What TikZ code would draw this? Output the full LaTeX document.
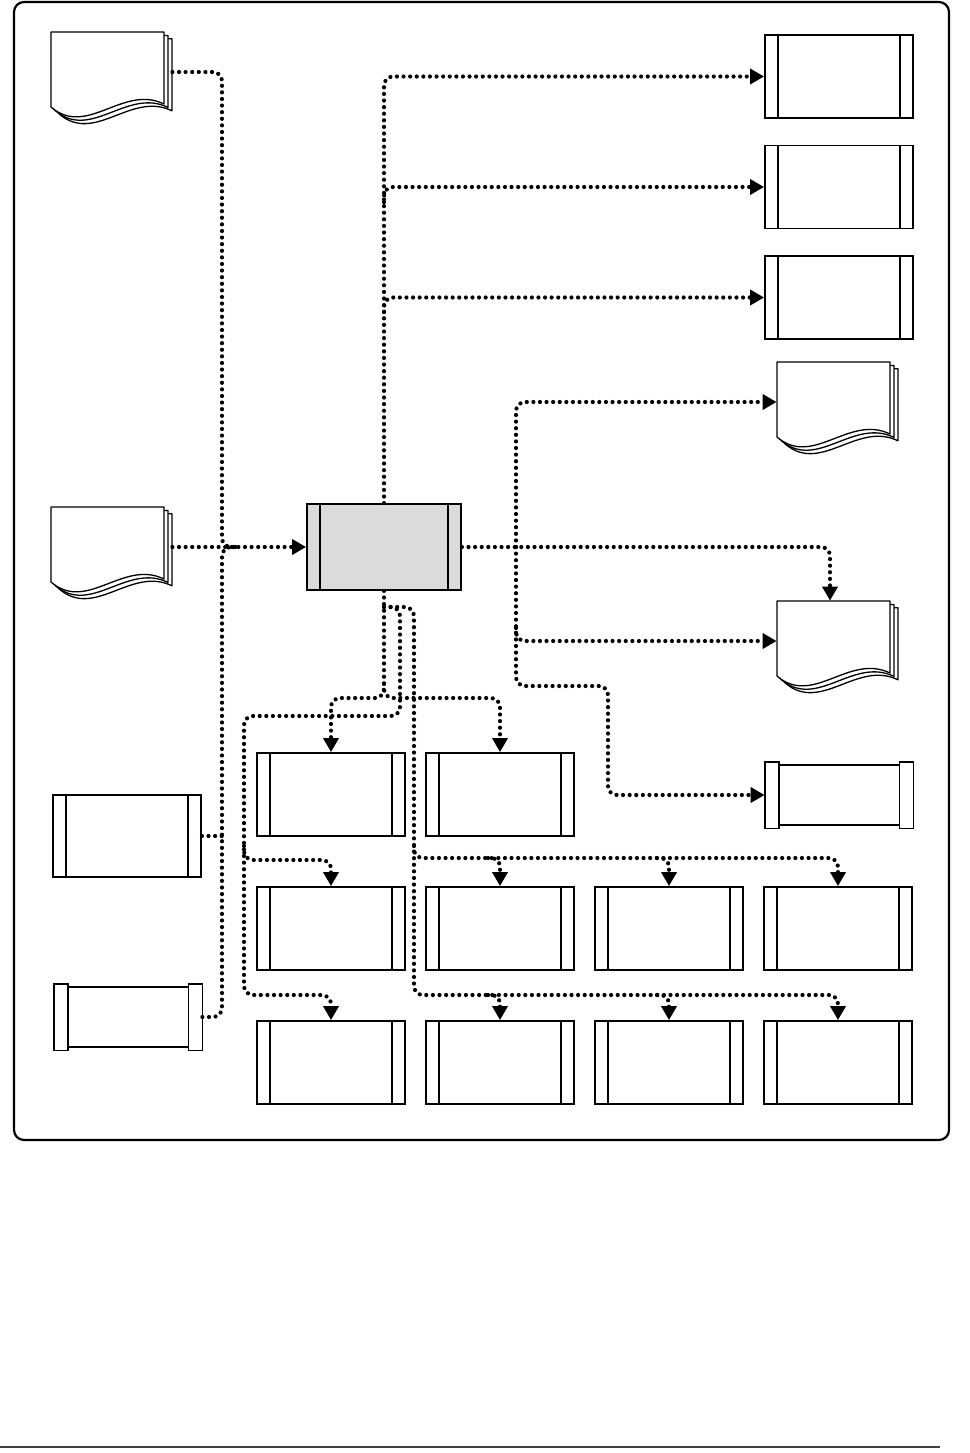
\documentclass[tikz,border=0pt]{standalone}
\usetikzlibrary{arrows.meta,calc}
\tikzset{
 boxline/.style={line width=0.9pt, draw=black},
 procbox/.style={boxline, rectangle, fill=white, inner sep=0pt, minimum width=74pt, minimum height=41.5pt,
   path picture={\draw[line width=0.8pt] ([xshift=6.5pt]path picture bounding box.north west) -- ([xshift=6.5pt]path picture bounding box.south west);
   \draw[line width=0.8pt] ([xshift=-6.5pt]path picture bounding box.north east) -- ([xshift=-6.5pt]path picture bounding box.south east);}},
 centerbox/.style={procbox, fill=black!14, minimum width=77pt, minimum height=43pt},
 anchorbox/.style={rectangle, draw=none, inner sep=0pt},
 conn/.style={line width=2.1pt, line cap=round, dash pattern=on 0pt off 3.3pt, rounded corners=4.5pt},
 arrowto/.style={-{Triangle[length=7pt,width=7.5pt]}},
 docline/.style={line width=0.65pt, draw=black, fill=white, line join=round},
}
\newcommand\docshape[3]{%
  \foreach \o in {8,4,0}{%
    \draw[docline, shift={(#2+\o,#3+0.85*\o)}] (0,0) -- (113,0) -- (113,72) .. controls (72,52) and (36,106) .. (0,75) -- cycle;}%
  \node[anchorbox, minimum width=60.5pt, minimum height=40pt] (#1) at (#2+60.5,#3+40) {};}
\newcommand\tubeshape[1]{%
  \draw[boxline, line width=1.1pt] ([yshift=-1.6pt]#1.north west) -- ([yshift=-1.6pt]#1.north east) ([yshift=1.6pt]#1.south west) -- ([yshift=1.6pt]#1.south east);
  \draw[boxline, fill=white] (#1.north west) rectangle ([xshift=7pt]#1.south west);
  \draw[boxline, fill=white] ([xshift=-7pt]#1.north east) rectangle (#1.south east);}
\begin{document}
\begin{tikzpicture}[x=0.5pt, y=-0.5pt]
\useasboundingbox (0,0) rectangle (970,1453);
\draw[line width=1.1pt, rounded corners=5pt] (14,2) rectangle (949,1140);
\draw[black!75, line width=0.6pt] (0,1447) -- (940,1447);

% documents
\docshape{d1}{51}{32}
\docshape{d2}{51}{507}
\docshape{d3}{777}{362}
\docshape{d4}{777}{601}

% boxes
\node[centerbox] (c) at (384,547) {};
\node[procbox] (r1) at (839,76.5) {};
\node[procbox] (r2) at (839,187) {};
\node[procbox] (r3) at (839,297.5) {};
\node[procbox, minimum height=41pt] (l1) at (127,836) {};
\node[procbox] (g11) at (331,794.5) {};
\node[procbox] (g12) at (500,794.5) {};
\node[procbox] (g21) at (331,928.5) {};
\node[procbox] (g22) at (500,928.5) {};
\node[procbox] (g23) at (669,928.5) {};
\node[procbox] (g24) at (838,928.5) {};
\node[procbox] (g31) at (331,1062.5) {};
\node[procbox] (g32) at (500,1062.5) {};
\node[procbox] (g33) at (669,1062.5) {};
\node[procbox] (g34) at (838,1062.5) {};

% tubes
\node[anchorbox, minimum width=74pt, minimum height=33pt] (l2) at (128,1017) {};
\tubeshape{l2}
\node[anchorbox, minimum width=74pt, minimum height=33pt] (r5) at (839,795) {};
\tubeshape{r5}

% inputs to centre
\draw[conn,arrowto] (d2.east) -- (c.west);
\draw[conn] (d1.east) -| (222,547) -- (236,547);
\draw[conn] (l2.east) -| (222,547) -- (236,547);
\draw[conn] (l1.east) -- (222,836);

% top outputs
\draw[conn,arrowto] (c.north) |- (r1.west);
\coordinate (t2) at (384,202);
\draw[conn,arrowto] (t2) |- (r2.west);
\coordinate (t3) at (384,312);
\draw[conn,arrowto] (t3) |- (r3.west);

% right outputs
\draw[conn,arrowto] (c.east) -| ([xshift=-3.75pt]d4.north);
\coordinate (j5) at (516,547);
\draw[conn,arrowto] (j5) |- (d3.west);
\coordinate (j6) at (516,628);
\draw[conn,arrowto] (j6) |- (d4.west);
\draw[conn,arrowto] (j5) -- (516,686) -- (608,686) |- (r5.west);

% bottom outputs
\draw[conn,arrowto] (c.south) -- (384,698) -| (g11.north);
\coordinate (k0) at (384,684);
\draw[conn,arrowto] (k0) -- (384,698) -| (g12.north);
\coordinate (k1) at (384,607);
\draw[conn,arrowto] (k1) -- (400,607) -- (400,716) -| (244,995) -| (g31.north);
\coordinate (k2) at (244,846);
\draw[conn,arrowto] (k2) -- (244,860) -| (g21.north);
\draw[conn,arrowto] (k1) -- (414,607) -- (414,995) -| (g34.north);
\coordinate (k3) at (414,846);
\draw[conn,arrowto] (k3) -- (414,858) -| (g24.north);
\coordinate (k4) at (488,858);
\draw[conn,arrowto] (k4) -| (g22.north);
\coordinate (k5) at (657,858);
\draw[conn,arrowto] (k5) -| (g23.north);
\coordinate (k6) at (488,995);
\draw[conn,arrowto] (k6) -| (g32.north);
\coordinate (k7) at (657,995);
\draw[conn,arrowto] (k7) -| (g33.north);
\end{tikzpicture}
\end{document}
